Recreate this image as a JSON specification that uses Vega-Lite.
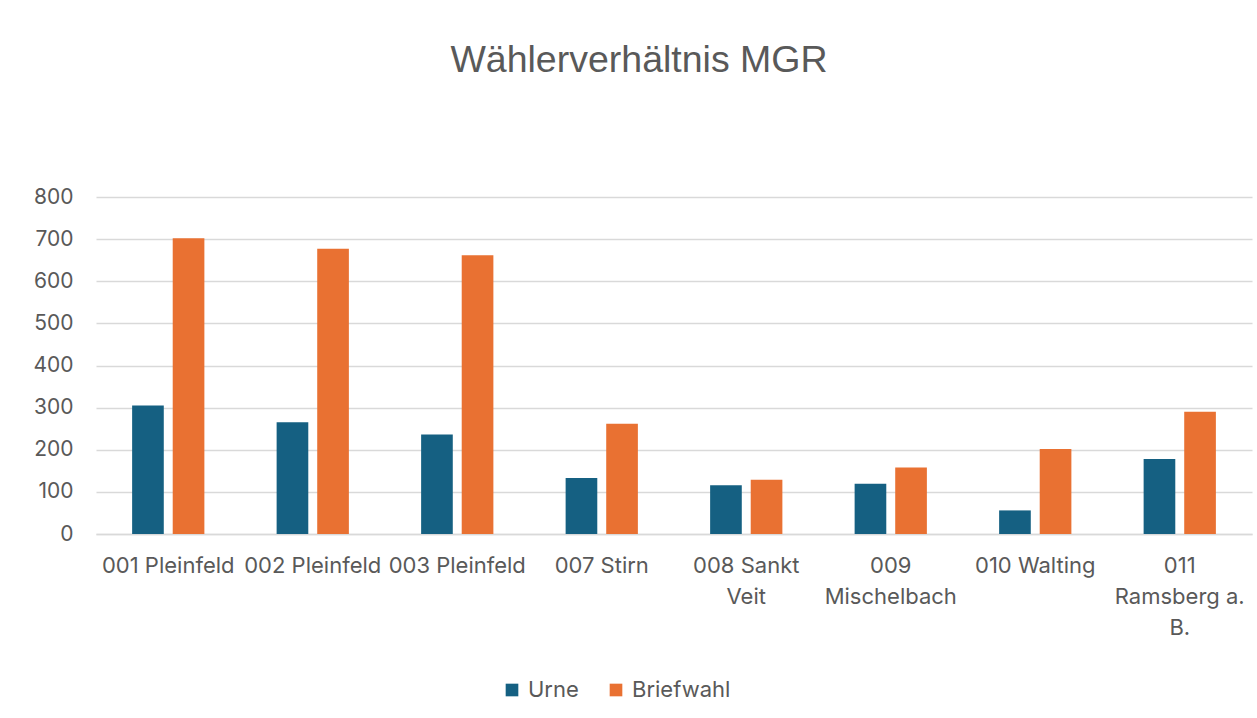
{
  "$schema": "https://vega.github.io/schema/vega-lite/v6.json",
  "width": 1156,
  "height": 337,
  "autosize": {"type": "none"},
  "padding": {"left": 96, "top": 197, "right": 5, "bottom": 184},
  "background": "white",
  "title": {
    "text": "Wählerverhältnis MGR",
    "font": "Liberation Sans",
    "fontSize": 37.5,
    "fontWeight": "normal",
    "color": "#595959",
    "anchor": "middle",
    "dx": -35,
    "offset": 107
  },
  "data": {
    "values": [
      {"Bezirk": "001 Pleinfeld", "Art": "Urne", "Wert": 305},
      {"Bezirk": "001 Pleinfeld", "Art": "Briefwahl", "Wert": 702},
      {"Bezirk": "002 Pleinfeld", "Art": "Urne", "Wert": 265},
      {"Bezirk": "002 Pleinfeld", "Art": "Briefwahl", "Wert": 677},
      {"Bezirk": "003 Pleinfeld", "Art": "Urne", "Wert": 236},
      {"Bezirk": "003 Pleinfeld", "Art": "Briefwahl", "Wert": 662},
      {"Bezirk": "007 Stirn", "Art": "Urne", "Wert": 133},
      {"Bezirk": "007 Stirn", "Art": "Briefwahl", "Wert": 262},
      {"Bezirk": "008 Sankt Veit", "Art": "Urne", "Wert": 116},
      {"Bezirk": "008 Sankt Veit", "Art": "Briefwahl", "Wert": 129},
      {"Bezirk": "009 Mischelbach", "Art": "Urne", "Wert": 119},
      {"Bezirk": "009 Mischelbach", "Art": "Briefwahl", "Wert": 158},
      {"Bezirk": "010 Walting", "Art": "Urne", "Wert": 56},
      {"Bezirk": "010 Walting", "Art": "Briefwahl", "Wert": 202},
      {"Bezirk": "011 Ramsberg a. B.", "Art": "Urne", "Wert": 178},
      {"Bezirk": "011 Ramsberg a. B.", "Art": "Briefwahl", "Wert": 290}
    ]
  },
  "mark": {"type": "bar"},
  "encoding": {
    "x": {
      "field": "Bezirk",
      "type": "nominal",
      "sort": null,
      "title": null,
      "scale": {"paddingInner": 0.5, "paddingOuter": 0.25},
      "axis": {
        "labelAngle": 0,
        "labelFont": "Inter",
        "labelFontSize": 22,
        "labelColor": "#595959",
        "labelPadding": 21,
        "labelLineHeight": 31,
        "labelOverlap": false,
        "labelBound": false,
        "ticks": false,
        "domainColor": "#d9d9d9",
        "domainWidth": 1.5,
        "labelExpr": "datum.value == '008 Sankt Veit' ? ['008 Sankt', 'Veit'] : datum.value == '009 Mischelbach' ? ['009', 'Mischelbach'] : datum.value == '011 Ramsberg a. B.' ? ['011', 'Ramsberg a.', 'B.'] : datum.value"
      }
    },
    "xOffset": {
      "field": "Art",
      "type": "nominal",
      "sort": ["Urne", "Briefwahl"],
      "scale": {"paddingInner": 0.22}
    },
    "y": {
      "field": "Wert",
      "type": "quantitative",
      "title": null,
      "scale": {"domain": [0, 800], "nice": false},
      "axis": {
        "values": [0, 100, 200, 300, 400, 500, 600, 700, 800],
        "labelFont": "Inter",
        "labelFontSize": 21,
        "labelColor": "#595959",
        "labelPadding": 23,
        "ticks": false,
        "domain": false,
        "gridColor": "#d9d9d9",
        "gridWidth": 1.5
      }
    },
    "color": {
      "field": "Art",
      "type": "nominal",
      "scale": {"domain": ["Urne", "Briefwahl"], "range": ["#156082", "#E97132"]},
      "legend": {
        "title": null,
        "orient": "none",
        "direction": "horizontal",
        "legendX": 405,
        "legendY": 482,
        "symbolType": "square",
        "symbolSize": 160,
        "symbolStrokeWidth": 0,
        "labelFont": "Inter",
        "labelFontSize": 22,
        "labelColor": "#595959",
        "labelOffset": 5,
        "columnPadding": 26
      }
    }
  },
  "config": {"view": {"stroke": null}}
}
